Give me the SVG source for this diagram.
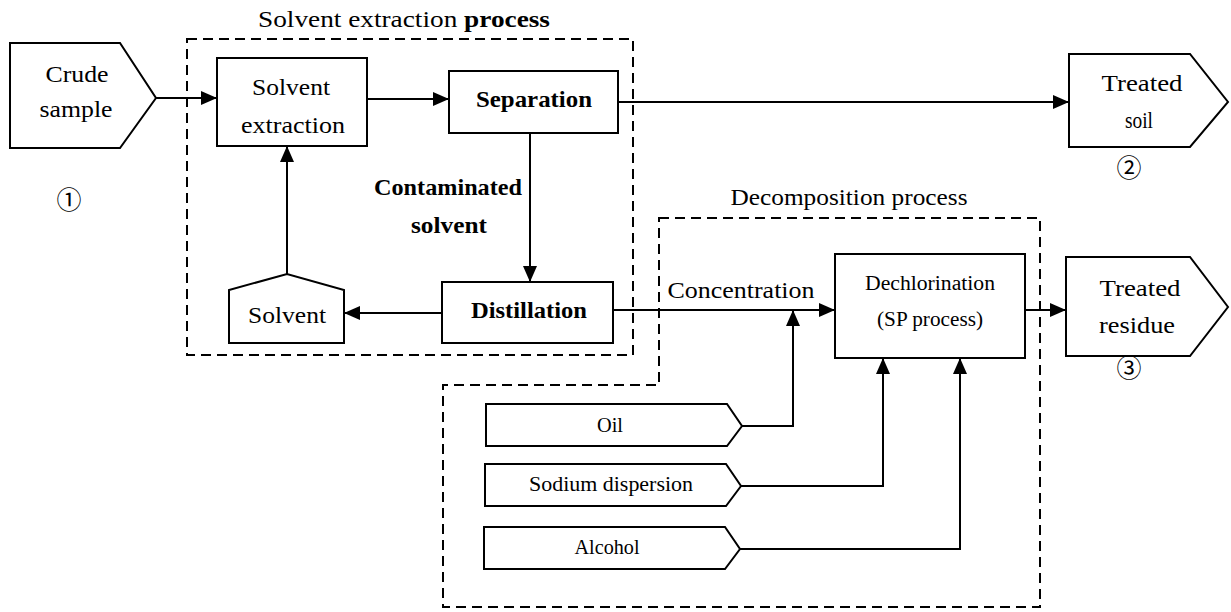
<svg xmlns="http://www.w3.org/2000/svg" width="1231" height="612" viewBox="0 0 1231 612">
<defs>
<style>
.box{fill:#fff;stroke:#000;stroke-width:2}
.dash{fill:none;stroke:#000;stroke-width:2;stroke-dasharray:10 6}
.ln{fill:none;stroke:#000;stroke-width:2}
.t{font-family:'Liberation Serif','DejaVu Serif','Noto Serif',serif;font-size:23px;fill:#000;text-anchor:middle}
.s{font-family:'Liberation Serif','DejaVu Serif','Noto Serif',serif;font-size:20px;fill:#000;text-anchor:middle}
.b{font-weight:bold}
.c{font-family:'Noto Sans CJK JP','DejaVu Sans',sans-serif;font-size:25px;fill:#000;text-anchor:middle}
</style>
<marker id="ah" markerUnits="userSpaceOnUse" markerWidth="17" markerHeight="15" refX="16" refY="7" orient="auto">
<path d="M0,0 L16,7 L0,14 z" fill="#000"/>
</marker>
</defs>
<rect width="1231" height="612" fill="#fff"/>

<g id="group-solvent-extraction-process">
<rect class="dash" x="187" y="39" width="446" height="316"/>
<text class="t" x="404" y="27" textLength="292" lengthAdjust="spacingAndGlyphs">Solvent extraction <tspan class="b">process</tspan></text>
</g>
<g id="group-decomposition-process">
<path class="dash" d="M659,218 H1040 V607 H443 V385 H659 Z"/>
<text class="t" x="849" y="205" textLength="237" lengthAdjust="spacingAndGlyphs">Decomposition process</text>
</g>

<g id="connectors">
<path class="ln" d="M156,98 H217" marker-end="url(#ah)"/>
<path class="ln" d="M367,99 H449" marker-end="url(#ah)"/>
<path class="ln" d="M618,102 H1069" marker-end="url(#ah)"/>
<path class="ln" d="M530,133 V282" marker-end="url(#ah)"/>
<path class="ln" d="M442,313 H344" marker-end="url(#ah)"/>
<path class="ln" d="M287,274 V146" marker-end="url(#ah)"/>
<path class="ln" d="M613,310 H835" marker-end="url(#ah)"/>
<path class="ln" d="M742,426 H793 V310" marker-end="url(#ah)"/>
<path class="ln" d="M741,486 H883 V358" marker-end="url(#ah)"/>
<path class="ln" d="M740,549 H960 V358" marker-end="url(#ah)"/>
<path class="ln" d="M1025,310 H1066" marker-end="url(#ah)"/>
<text class="t b" x="448" y="195" textLength="148" lengthAdjust="spacingAndGlyphs">Contaminated</text>
<text class="t b" x="449" y="233" textLength="76" lengthAdjust="spacingAndGlyphs">solvent</text>
<text class="t" x="741" y="298" textLength="147" lengthAdjust="spacingAndGlyphs">Concentration</text>
</g>

<g id="node-crude-sample">
<polygon class="box" points="10,43 120,43 156,98 120,148 10,148"/>
<text class="t" x="77" y="82" textLength="63" lengthAdjust="spacingAndGlyphs">Crude</text>
<text class="t" x="76" y="117" textLength="73" lengthAdjust="spacingAndGlyphs">sample</text>
<text class="c" x="69" y="209">①</text>
</g>
<g id="node-solvent-extraction">
<rect class="box" x="217" y="58" width="150" height="88"/>
<text class="t" x="291" y="95" textLength="78" lengthAdjust="spacingAndGlyphs">Solvent</text>
<text class="t" x="293" y="133" textLength="104" lengthAdjust="spacingAndGlyphs">extraction</text>
</g>
<g id="node-separation">
<rect class="box" x="449" y="71" width="169" height="62"/>
<text class="t b" x="534" y="107" textLength="116" lengthAdjust="spacingAndGlyphs">Separation</text>
</g>
<g id="node-distillation">
<rect class="box" x="442" y="282" width="171" height="61"/>
<text class="t b" x="529" y="318" textLength="116" lengthAdjust="spacingAndGlyphs">Distillation</text>
</g>
<g id="node-solvent">
<polygon class="box" points="229,343 229,290 287,274 344,290 344,343"/>
<text class="t" x="287" y="323" textLength="78" lengthAdjust="spacingAndGlyphs">Solvent</text>
</g>
<g id="node-dechlorination">
<rect class="box" x="835" y="254" width="190" height="104"/>
<text class="s" x="930" y="290" textLength="130" lengthAdjust="spacingAndGlyphs">Dechlorination</text>
<text class="s" x="930" y="326" textLength="106" lengthAdjust="spacingAndGlyphs">(SP process)</text>
</g>
<g id="node-oil">
<polygon class="box" points="486,404 727,404 742,426 727,446 486,446"/>
<text class="s" x="610" y="432" textLength="26" lengthAdjust="spacingAndGlyphs">Oil</text>
</g>
<g id="node-sodium-dispersion">
<polygon class="box" points="485,464 726,464 741,486 726,506 485,506"/>
<text class="s" x="611" y="491" textLength="164" lengthAdjust="spacingAndGlyphs">Sodium dispersion</text>
</g>
<g id="node-alcohol">
<polygon class="box" points="484,527 725,527 740,549 725,569 484,569"/>
<text class="s" x="607" y="554" textLength="65" lengthAdjust="spacingAndGlyphs">Alcohol</text>
</g>
<g id="node-treated-soil">
<polygon class="box" points="1069,54 1190,54 1228,102 1190,147 1069,147"/>
<text class="t" x="1142" y="91" textLength="81" lengthAdjust="spacingAndGlyphs">Treated</text>
<text class="t" x="1139" y="128" textLength="28" lengthAdjust="spacingAndGlyphs">soil</text>
<text class="c" x="1129" y="177">②</text>
</g>
<g id="node-treated-residue">
<polygon class="box" points="1066,257 1190,257 1228,307 1190,356 1066,356"/>
<text class="t" x="1140" y="296" textLength="81" lengthAdjust="spacingAndGlyphs">Treated</text>
<text class="t" x="1137" y="333" textLength="76" lengthAdjust="spacingAndGlyphs">residue</text>
<text class="c" x="1129" y="377">③</text>
</g>
</svg>
